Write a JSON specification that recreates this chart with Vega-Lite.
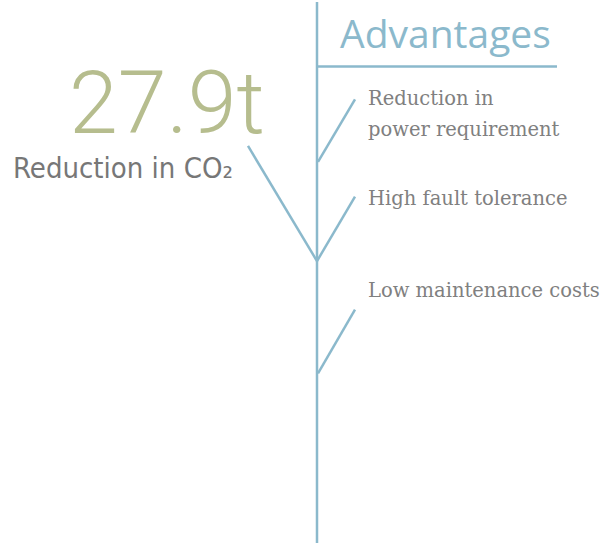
{
  "$schema": "https://vega.github.io/schema/vega-lite/v6.json",
  "width": 616,
  "height": 545,
  "autosize": {"type": "fit", "contains": "padding"},
  "padding": 0,
  "background": "#ffffff",
  "config": {"view": {"stroke": null}},
  "layer": [
    {
      "data": {"values": [
        {"part": "trunk", "x": 317, "y": 0, "x2": 317, "y2": 545},
        {"part": "header rule", "x": 317, "y": 65, "x2": 557, "y2": 65},
        {"part": "branch 1", "x": 318, "y": 161, "x2": 355, "y2": 98},
        {"part": "branch 2", "x": 317, "y": 261, "x2": 355, "y2": 196},
        {"part": "branch co2", "x": 248, "y": 145, "x2": 317, "y2": 261},
        {"part": "branch 3", "x": 318, "y": 374, "x2": 355, "y2": 310}
      ]},
      "mark": {"type": "rule", "color": "#8bb9cc", "strokeWidth": 2.5},
      "encoding": {
        "x": {"field": "x", "type": "quantitative", "scale": {"domain": [0, 616], "nice": false, "zero": false}, "axis": null},
        "y": {"field": "y", "type": "quantitative", "scale": {"domain": [0, 545], "nice": false, "zero": false, "reverse": true}, "axis": null},
        "x2": {"field": "x2"},
        "y2": {"field": "y2"}
      }
    },
    {
      "data": {"values": [{"label": "Advantages", "x": 340, "y": 46}]},
      "mark": {"type": "text", "align": "left", "baseline": "alphabetic", "font": "Open Sans", "fontSize": 39, "color": "#8bb9cc"},
      "encoding": {
        "x": {"field": "x", "type": "quantitative"},
        "y": {"field": "y", "type": "quantitative"},
        "text": {"field": "label"}
      }
    },
    {
      "data": {"values": [{"label": "27.9t", "x": 69, "y": 132}]},
      "mark": {"type": "text", "align": "left", "baseline": "alphabetic", "font": "Roboto", "fontSize": 88, "fontWeight": 300, "color": "#b6bd8e"},
      "encoding": {
        "x": {"field": "x", "type": "quantitative"},
        "y": {"field": "y", "type": "quantitative"},
        "text": {"field": "label"}
      }
    },
    {
      "data": {"values": [{"label": "Reduction in CO₂", "x": 13, "y": 177}]},
      "mark": {"type": "text", "align": "left", "baseline": "alphabetic", "font": "DejaVu Sans Condensed", "fontSize": 29, "color": "#777777"},
      "encoding": {
        "x": {"field": "x", "type": "quantitative"},
        "y": {"field": "y", "type": "quantitative"},
        "text": {"field": "label"}
      }
    },
    {
      "data": {"values": [
        {"label": "Reduction in", "x": 368, "y": 104},
        {"label": "power requirement", "x": 368, "y": 135},
        {"label": "High fault tolerance", "x": 368, "y": 205},
        {"label": "Low maintenance costs", "x": 368, "y": 297}
      ]},
      "mark": {"type": "text", "align": "left", "baseline": "alphabetic", "font": "DejaVu Serif", "fontSize": 19.5, "color": "#808080"},
      "encoding": {
        "x": {"field": "x", "type": "quantitative"},
        "y": {"field": "y", "type": "quantitative"},
        "text": {"field": "label"}
      }
    }
  ]
}
